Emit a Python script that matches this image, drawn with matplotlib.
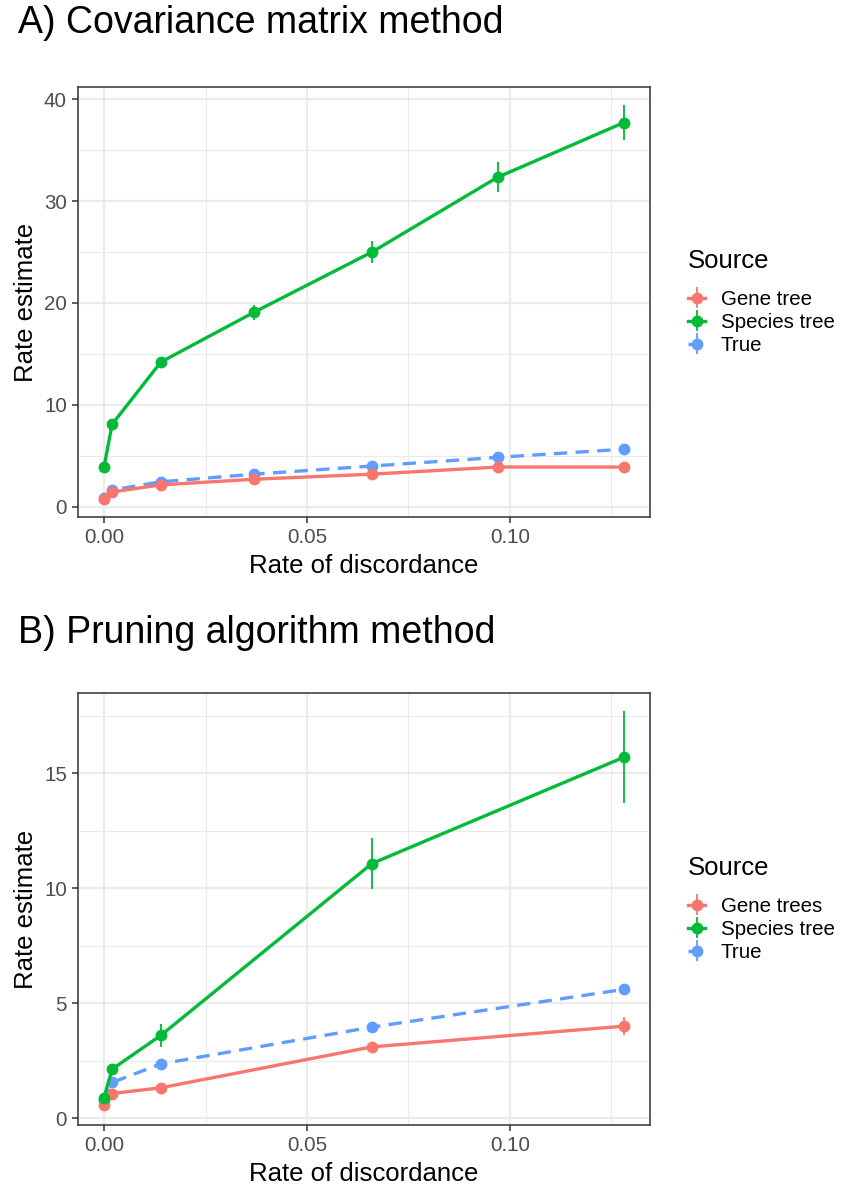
import numpy as np
import matplotlib.pyplot as plt

# data
disc_a = [0.0, 0.002, 0.014, 0.037, 0.066, 0.097, 0.128]
gene_a = [0.8, 1.45, 2.15, 2.7, 3.2, 3.9, 3.9]
gene_a_err = [0.05, 0.05, 0.1, 0.1, 0.1, 0.15, 0.15]
species_a = [3.9, 8.1, 14.2, 19.1, 25.0, 32.35, 37.7]
species_a_err = [0.1, 0.3, 0.5, 0.75, 1.05, 1.45, 1.7]
true_a = [0.85, 1.65, 2.45, 3.2, 4.0, 4.85, 5.65]

disc_b = [0.0, 0.002, 0.014, 0.066, 0.128]
gene_b = [0.55, 1.07, 1.32, 3.1, 4.0]
gene_b_err = [0.05, 0.05, 0.08, 0.22, 0.4]
species_b = [0.89, 2.13, 3.6, 11.08, 15.7]
species_b_err = [0.1, 0.15, 0.5, 1.1, 2.0]
true_b = [0.75, 1.55, 2.36, 3.96, 5.6]

red = '#F8766D'
green = '#00BA38'
blue = '#619CFF'

plt.rcParams['font.family'] = ['Liberation Sans', 'DejaVu Sans']

fig = plt.figure(figsize=(8.65, 12), dpi=100)

def panel(rect, x, gene, gene_err, species, species_err, true, ylim, yticks, yminor,
          title, title_y, gene_label):
    ax = fig.add_axes(rect)
    ax.set_facecolor('white')
    for s in ax.spines.values():
        s.set_color('#333333')
        s.set_linewidth(1.1)
    ax.set_xlim(-0.0064, 0.1345)
    ax.set_ylim(*ylim)
    ax.set_xticks([0.0, 0.05, 0.10])
    ax.set_xticklabels(['0.00', '0.05', '0.10'])
    ax.set_xticks([0.025, 0.075, 0.125], minor=True)
    ax.set_yticks(yticks)
    ax.set_yticks(yminor, minor=True)
    ax.grid(which='major', color='#EBEBEB', linewidth=1.6, zorder=0)
    ax.grid(which='minor', color='#EBEBEB', linewidth=0.8, zorder=0)
    ax.tick_params(which='major', direction='out', length=4, width=1.1, color='#333333',
                   labelsize=14.8, labelcolor='#4D4D4D', pad=4)
    ax.tick_params(which='minor', length=0)
    ax.set_axisbelow(True)

    # True series gets zero-length bars so its legend key looks like the others
    h_true = ax.errorbar(x, true, yerr=np.zeros(len(true)), color=blue, lw=2.4,
                         ls=(0, (4, 2.5)), marker='o', ms=7.5, elinewidth=1.3,
                         capsize=0, zorder=3)
    h_gene = ax.errorbar(x, gene, yerr=gene_err, color=red, lw=2.4, marker='o', ms=7.5,
                         elinewidth=1.3, capsize=0, zorder=4)
    h_spec = ax.errorbar(x, species, yerr=species_err, color=green, lw=2.4, marker='o',
                         ms=7.5, elinewidth=1.3, capsize=0, zorder=5)

    ax.set_xlabel('Rate of discordance', fontsize=18.5, labelpad=5)
    ax.set_ylabel('Rate estimate', fontsize=18.5, labelpad=4)
    fig.text(0.021, 1 - title_y / 1200, title, fontsize=27, va='baseline', ha='left')

    leg = ax.legend([h_gene, h_spec, h_true], [gene_label, 'Species tree', 'True'],
                    title='Source', loc='center left', bbox_to_anchor=(1.066, 0.5),
                    frameon=False, borderpad=0, borderaxespad=0,
                    fontsize=14.8, title_fontsize=18.5, handlelength=0.85,
                    labelspacing=0.2, handletextpad=0.75)
    leg._legend_box.align = 'left'
    leg._legend_box.sep = 12
    for ln in leg.get_lines():
        if ln.get_linestyle() not in ('-', 'None'):
            ln.set_linestyle('-')
    return ax

panel([0.0902, 0.5692, 0.6613, 0.3583], disc_a, gene_a, gene_a_err, species_a, species_a_err,
      true_a, (-1.0, 41.2), [0, 10, 20, 30, 40], [5, 15, 25, 35],
      'A) Covariance matrix method', 33, 'Gene tree')
panel([0.0902, 0.0625, 0.6613, 0.36], disc_b, gene_b, gene_b_err, species_b, species_b_err,
      true_b, (-0.3, 18.5), [0, 5, 10, 15], [2.5, 7.5, 12.5, 17.5],
      'B) Pruning algorithm method', 643, 'Gene trees')

fig.savefig('out.png', dpi=100, facecolor='white')
